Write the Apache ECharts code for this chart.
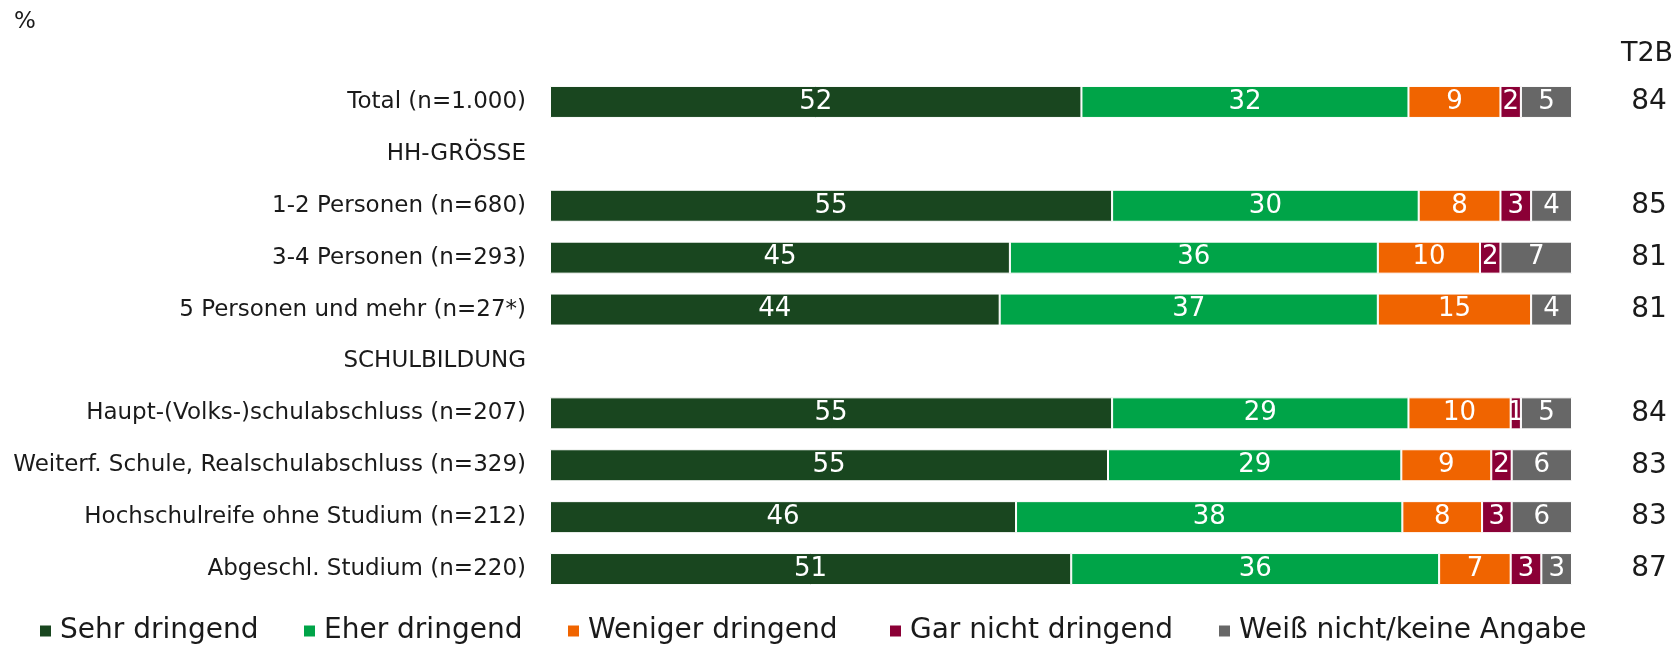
<!DOCTYPE html>
<html lang="de">
<head>
<meta charset="utf-8">
<title>Dringlichkeit</title>
<script src="https://cdn.jsdelivr.net/npm/echarts@6/dist/echarts.min.js"></script>
<style>
  html, body { margin: 0; padding: 0; background: #fff; }
  #chart { width: 1678px; height: 646px; }
</style>
</head>
<body>
<div id="chart"></div>
<script>
// Kategorien (inkl. Zwischenüberschriften)
const categories = [
  'Total (n=1.000)',
  'HH-GRÖSSE',
  '1-2 Personen (n=680)',
  '3-4 Personen (n=293)',
  '5 Personen und mehr (n=27*)',
  'SCHULBILDUNG',
  'Haupt-(Volks-)schulabschluss (n=207)',
  'Weiterf. Schule, Realschulabschluss (n=329)',
  'Hochschulreife ohne Studium (n=212)',
  'Abgeschl. Studium (n=220)'
];

const seriesNames = ['Sehr dringend', 'Eher dringend', 'Weniger dringend', 'Gar nicht dringend', 'Weiß nicht/keine Angabe'];

// Werte in %
const sehrDringend    = [52, null, 55, 45, 44, null, 55, 54.6, 45.6, 51];
const eherDringend    = [32, null, 30, 36, 37, null, 29, 28.7, 37.8, 36];
const wenigerDringend = [9, null, 8, 10, 15, null, 10, 8.8, 7.8, 7];
const garNicht        = [2, null, 3, 2, null, null, 1, 2.0, 2.9, 3];
const weissNicht      = [5, null, 4, 7, 4, null, 5, 5.9, 5.9, 3];

// Top-2-Box
const t2b = ['84', '', '85', '81', '81', '', '84', '83', '83', '87'];

const colors = ['#19461f', '#00a448', '#f06400', '#8b0036', '#676767'];
const font = 'DejaVu Sans';
const textColor = '#1a1a1a';

const makeSeries = (name, data, color) => ({
  name: name,
  type: 'bar',
  stack: 'total',
  data: data,
  barWidth: 32,
  itemStyle: { color: color, borderColor: '#fff', borderWidth: 1 },
  label: {
    show: true,
    position: 'inside',
    color: '#fff',
    fontFamily: font,
    fontSize: 26,
    formatter: p => (p.value ? Math.round(p.value) : '')
  }
});

// Legende: jedes Element einzeln positioniert
const legendLeft = [38, 302, 566, 888, 1217];

const getOption = () => ({
  animation: false,
  textStyle: { fontFamily: font },
  title: {
    text: '%',
    left: 9,
    top: 6,
    textStyle: { fontSize: 23, fontWeight: 'normal', color: textColor, fontFamily: font }
  },
  graphic: [{
    type: 'text',
    x: 1647,
    y: 54,
    style: {
      text: 'T2B',
      fill: textColor,
      fontSize: 27,
      fontFamily: font,
      textAlign: 'center',
      textVerticalAlign: 'middle'
    }
  }],
  legend: seriesNames.map((n, i) => ({
    data: [n],
    left: legendLeft[i],
    top: 617,
    padding: 0,
    icon: 'rect',
    itemWidth: 13,
    itemHeight: 13,
    selectedMode: false,
    textStyle: { fontSize: 28, color: textColor, fontFamily: font, padding: [0, 0, 0, 3] }
  })),
  grid: { left: 550, right: 106, top: 76, bottom: 51 },
  xAxis: { type: 'value', min: 0, max: 100, show: false },
  yAxis: [
    {
      type: 'category',
      data: categories,
      inverse: true,
      axisLine: { show: false },
      axisTick: { show: false },
      axisLabel: { margin: 24, fontSize: 23, color: textColor, fontFamily: font }
    },
    {
      type: 'category',
      data: t2b,
      inverse: true,
      position: 'right',
      axisLine: { show: false },
      axisTick: { show: false },
      axisLabel: { margin: 77, align: 'center', fontSize: 28, color: textColor, fontFamily: font }
    }
  ],
  series: [
    makeSeries(seriesNames[0], sehrDringend, colors[0]),
    makeSeries(seriesNames[1], eherDringend, colors[1]),
    makeSeries(seriesNames[2], wenigerDringend, colors[2]),
    makeSeries(seriesNames[3], garNicht, colors[3]),
    makeSeries(seriesNames[4], weissNicht, colors[4])
  ]
});

const myChart = echarts.init(document.getElementById('chart'));
myChart.setOption(getOption());
</script>
</body>
</html>
